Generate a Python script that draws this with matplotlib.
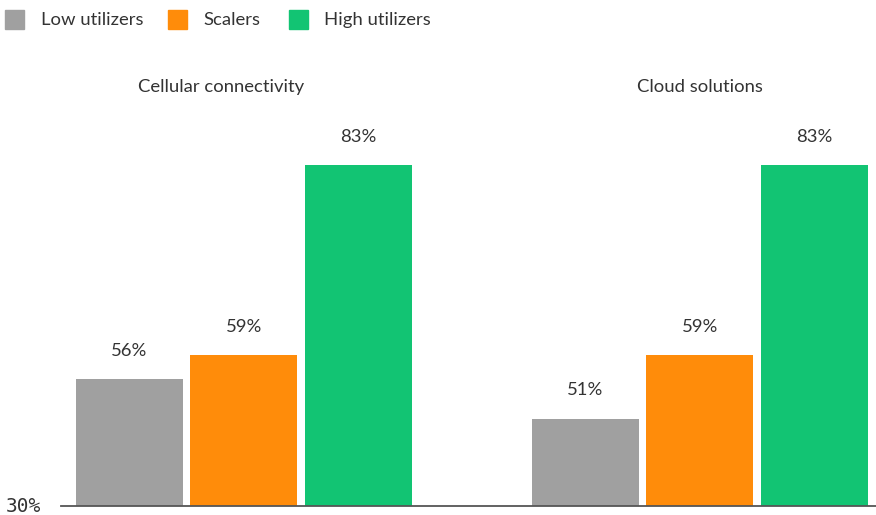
import matplotlib
matplotlib.use("Agg")
import matplotlib.pyplot as plt
from matplotlib.patches import Rectangle

# Data
groups = ["Cellular connectivity", "Cloud solutions"]
series = ["Low utilizers", "Scalers", "High utilizers"]
low_utilizers = [56, 51]
scalers = [59, 59]
high_utilizers = [83, 83]
values = [low_utilizers, scalers, high_utilizers]
colors = ["#a0a0a0", "#ff8c0a", "#12c473"]
baseline_label = "30%"

text_color = "#333333"
font = ["Lato", "DejaVu Sans"]
fs = 13.3

W, H = 876, 515
fig = plt.figure(figsize=(W / 100, H / 100), dpi=100)

# Axes spans from the baseline rule on the left to the right edge
ax_left, ax_right = 61 / W, 1.0
ax_bottom, ax_top = (H - 506) / H, (H - 40) / H
ax = fig.add_axes([ax_left, ax_bottom, ax_right - ax_left, ax_top - ax_bottom])

y_min = 40
px_per_unit = (506 - 165) / (83 - y_min)
y_max = y_min + (506 - 40) / px_per_unit
ax.set_ylim(y_min, y_max)
ax.set_xlim(-1.598, 5.52)

group_centers = [0, 3.98]
bar_w = 0.934
for si, (name, vals, col) in enumerate(zip(series, values, colors)):
    xs = [gc + (si - 1) for gc in group_centers]
    ax.bar(xs, [v - y_min for v in vals], bottom=y_min, width=bar_w,
           color=col, label=name, zorder=2)
    for x, v in zip(xs, vals):
        ax.annotate(f"{v}%", (x, v), xytext=(0, 20.5), textcoords="offset points",
                    ha="center", va="center", fontsize=fs, color=text_color,
                    family=font)

# Group titles
title_x = [-0.2, 3.98]
title_y = y_min + (506 - 87) / px_per_unit
for tx, g in zip(title_x, groups):
    ax.text(tx, title_y, g, ha="center", va="center", fontsize=fs,
            color=text_color, family=font)

# Axis styling
for s in ["top", "right", "left"]:
    ax.spines[s].set_visible(False)
ax.spines["bottom"].set_color("#555555")
ax.spines["bottom"].set_linewidth(1.3)
ax.set_xticks([])
ax.set_yticks([])

fig.text(6 / W, (H - 507) / H, baseline_label, ha="left", va="center",
         fontsize=14, color=text_color, family=["DejaVu Sans Mono"])

# Legend drawn as swatches with labels
sw_x = [5, 168, 289]
lbl_x = [41, 203, 324]
for x0, lx, name, col in zip(sw_x, lbl_x, series, colors):
    fig.patches.append(Rectangle((x0 / W, (H - 29) / H), 19 / W, 19 / H,
                                 transform=fig.transFigure, color=col))
    fig.text(lx / W, (H - 20) / H, name, ha="left", va="center",
             fontsize=fs, color=text_color, family=font)

fig.savefig("out.png", dpi=100)
